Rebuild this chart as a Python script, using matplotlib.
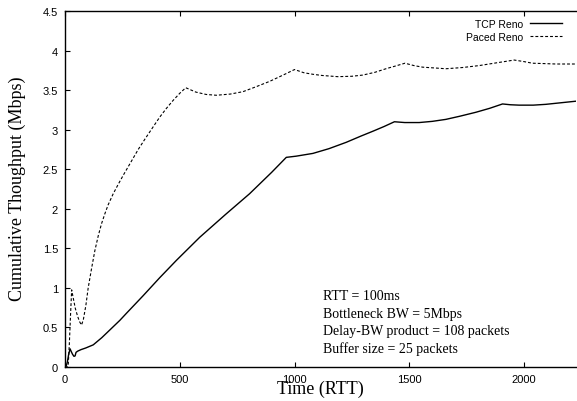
import numpy as np
import matplotlib
matplotlib.use("Agg")
import matplotlib.pyplot as plt

# values (time in RTT, throughput in Mbps)
reno_t = [0, 5, 10, 16, 22, 28, 33, 39, 44, 48, 55, 70, 90, 123, 160, 196, 239, 268, 340,
          413, 486, 587, 700, 804, 900, 964, 1007, 1080, 1150, 1225, 1290, 1341, 1390,
          1435, 1480, 1543, 1600, 1659, 1720, 1790, 1850, 1906, 1940, 1978, 2040, 2094,
          2160, 2226]
reno_y = [0, 0.01, 0.06, 0.16, 0.23, 0.19, 0.16, 0.135, 0.14, 0.185, 0.2, 0.22, 0.24,
          0.28, 0.37, 0.47, 0.59, 0.68, 0.90, 1.13, 1.35, 1.64, 1.93, 2.19, 2.46,
          2.65, 2.665, 2.70, 2.76, 2.84, 2.92, 2.98, 3.04, 3.10, 3.09, 3.09, 3.105, 3.13,
          3.17, 3.22, 3.27, 3.325, 3.315, 3.31, 3.31, 3.32, 3.34, 3.36]

paced_t = [0, 10, 14, 19, 24, 29, 36, 45, 55, 64, 72, 80, 91, 101, 116, 130, 145, 159,
           174, 188, 210, 232, 253, 275, 297, 319, 348, 385, 413, 442, 471, 500, 526,
           570, 615, 659, 720, 775, 830, 891, 950, 1000, 1040, 1080, 1120, 1188, 1250,
           1297, 1350, 1398, 1440, 1481, 1520, 1558, 1610, 1659, 1730, 1804, 1880, 1957,
           2000, 2036, 2090, 2138, 2226]
paced_y = [0, 0, 0.02, 0.3, 0.65, 0.975, 0.87, 0.74, 0.64, 0.57, 0.53, 0.6, 0.78, 1.0,
           1.25, 1.47, 1.66, 1.81, 1.94, 2.05, 2.19, 2.31, 2.42, 2.53, 2.64, 2.75, 2.88,
           3.04, 3.16, 3.27, 3.37, 3.46, 3.53, 3.475, 3.445, 3.435, 3.45, 3.48, 3.54,
           3.61, 3.69, 3.76, 3.72, 3.70, 3.685, 3.67, 3.675, 3.69, 3.725, 3.77, 3.805,
           3.84, 3.81, 3.79, 3.78, 3.77, 3.785, 3.81, 3.845, 3.88, 3.86, 3.84, 3.835,
           3.83, 3.83]

legend_labels = ["TCP Reno", "Paced Reno"]
notes = ["RTT = 100ms", "Bottleneck BW = 5Mbps",
         "Delay-BW product = 108 packets", "Buffer size = 25 packets"]

fig = plt.figure(figsize=(5.77, 4.02), dpi=100)
ax = fig.add_axes([65 / 577, 34 / 402, 511 / 577, 356 / 402])

ax.plot(reno_t, reno_y, color="black", lw=1.0, label=legend_labels[0])
ax.plot(paced_t, paced_y, color="black", lw=0.8, linestyle=(0, (2.6, 1.8)),
        label=legend_labels[1])

ax.set_xlim(0, 2226)
ax.set_ylim(0, 4.5)
ax.set_xticks([0, 500, 1000, 1500, 2000])
ax.set_yticks(np.arange(0, 4.51, 0.5))
ax.set_yticklabels(["0", "0.5", "1", "1.5", "2", "2.5", "3", "3.5", "4", "4.5"])
ax.tick_params(direction="in", length=3.5, width=0.8, labelsize=8, pad=5,
               top=True, right=False)
for lab in ax.get_xticklabels() + ax.get_yticklabels():
    lab.set_family("Liberation Sans")
for s in ax.spines.values():
    s.set_linewidth(1.0)
ax.spines["right"].set_visible(False)

ax.set_xlabel("Time (RTT)", family="Liberation Serif", fontsize=13)
ax.xaxis.set_label_coords(0.5, -0.059)
ax.xaxis.label.set_verticalalignment("center")
ax.set_ylabel("Cumulative Thoughput (Mbps)", family="Liberation Serif", fontsize=13)
ax.yaxis.set_label_coords(-0.093, 0.503)
ax.yaxis.label.set_verticalalignment("center")

ax.legend(loc="upper right", frameon=False, markerfirst=False,
          prop={"family": "Liberation Sans", "size": 7.5},
          handlelength=3.1, handletextpad=0.6, labelspacing=0.25,
          borderaxespad=0.2, bbox_to_anchor=(0.985, 0.995))

for i, line in enumerate(notes):
    ax.text(0.504, 0.2003 - i * 0.049, line, transform=ax.transAxes,
            family="Liberation Serif", fontsize=10, va="center", ha="left")

fig.savefig("out.png", dpi=100)
